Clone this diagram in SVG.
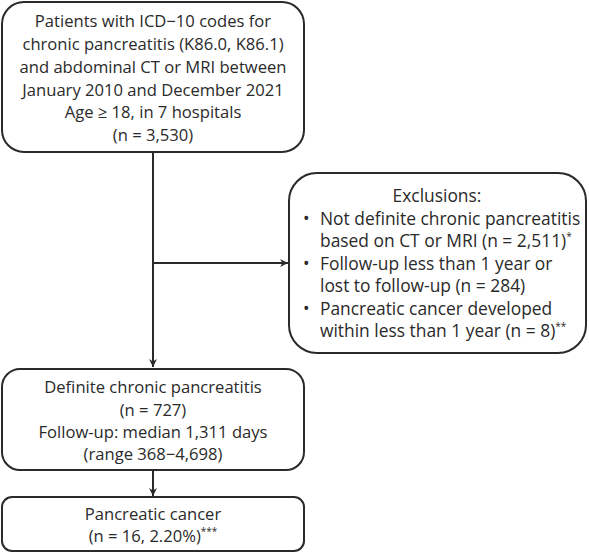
<svg xmlns="http://www.w3.org/2000/svg" width="589" height="553" viewBox="0 0 589 553">
<style>
.box{fill:#fff;stroke:#2a2a2a;stroke-width:2}
.t{font-family:"Open Sans","Noto Sans",sans-serif;font-size:16.6px;fill:#2a2a2a}
.e{font-size:17.4px}
.c{text-anchor:middle}
.line{stroke:#2a2a2a;stroke-width:2;fill:none}
.sup{font-size:10px}
</style>
<defs>
<marker id="ah" viewBox="0 0 10 10" refX="10" refY="5" markerWidth="8" markerHeight="8" markerUnits="userSpaceOnUse" orient="auto">
<path d="M0,0 L10,5 L0,10 L3,5 Z" fill="#2a2a2a"/>
</marker>
</defs>
<rect width="589" height="553" fill="#fff"/>
<g id="connectors">
<line class="line" x1="153" y1="152" x2="153" y2="367" marker-end="url(#ah)"/>
<line class="line" x1="153" y1="263" x2="288" y2="263" marker-end="url(#ah)"/>
<line class="line" x1="153" y1="470" x2="153" y2="496" marker-end="url(#ah)"/>
</g>
<g id="n1">
<rect class="box" x="2" y="2" width="302" height="150" rx="22"/>
<text class="t c" x="153" y="27">Patients with ICD−10 codes for</text>
<text class="t c" x="153" y="50">chronic pancreatitis (K86.0, K86.1)</text>
<text class="t c" x="153" y="73">and abdominal CT or MRI between</text>
<text class="t c" x="153" y="96">January 2010 and December 2021</text>
<text class="t c" x="153" y="118">Age ≥ 18, in 7 hospitals</text>
<text class="t c" x="153" y="141">(n = 3,530)</text>
</g>
<g id="n2">
<rect class="box" x="289" y="173" width="297" height="180" rx="28"/>
<text class="t e c" x="437" y="202">Exclusions:</text>
<text class="t e" x="303" y="225">•</text>
<text class="t e" x="320" y="225">Not definite chronic pancreatitis</text>
<text class="t e" x="320" y="247">based on CT or MRI (n = 2,511)<tspan class="sup" dy="-7">*</tspan></text>
<text class="t e" x="303" y="270">•</text>
<text class="t e" x="320" y="270">Follow-up less than 1 year or</text>
<text class="t e" x="320" y="292">lost to follow-up (n = 284)</text>
<text class="t e" x="303" y="315">•</text>
<text class="t e" x="320" y="315">Pancreatic cancer developed</text>
<text class="t e" x="320" y="337">within less than 1 year (n = 8)<tspan class="sup" dy="-7">**</tspan></text>
</g>
<g id="n3">
<rect class="box" x="2" y="369" width="302" height="101" rx="18"/>
<text class="t c" x="153" y="393">Definite chronic pancreatitis</text>
<text class="t c" x="153" y="416">(n = 727)</text>
<text class="t c" x="153" y="438">Follow-up: median 1,311 days</text>
<text class="t c" x="153" y="460">(range 368−4,698)</text>
</g>
<g id="n4">
<rect class="box" x="2" y="497" width="302" height="54" rx="10"/>
<text class="t c" x="153" y="520">Pancreatic cancer</text>
<text class="t c" x="153" y="542">(n = 16, 2.20%)<tspan class="sup" dy="-7">***</tspan></text>
</g>
</svg>
